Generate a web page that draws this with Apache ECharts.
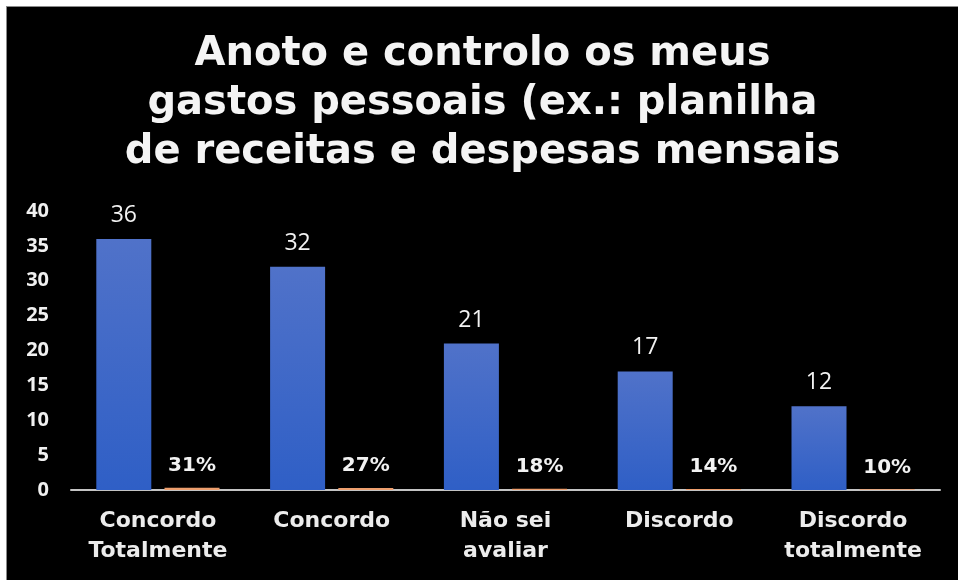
<!DOCTYPE html>
<html>
<head>
<meta charset="utf-8">
<script src="https://cdn.jsdelivr.net/npm/echarts@6/dist/echarts.min.js"></script>
<style>
  html, body { margin: 0; padding: 0; background: #ffffff; width: 958px; height: 580px; overflow: hidden; }
  #frame { position: absolute; left: 6px; top: 6px; width: 952px; height: 574px; background: #000; border-left: 1px solid #8a8a8a; border-top: 1px solid #8a8a8a; box-sizing: border-box; }
  #chart { width: 100%; height: 100%; }
</style>
</head>
<body>
<div id="frame"><div id="chart"></div></div>
<script>
// Survey answers: counts and share of respondents
const titleLines = [
  'Anoto e controlo os meus',
  'gastos pessoais (ex.: planilha',
  'de receitas e despesas mensais'
];
const categories = ['Concordo\nTotalmente', 'Concordo', 'Não sei\navaliar', 'Discordo', 'Discordo\ntotalmente'];
const counts = [36, 32, 21, 17, 12];
const shares = [0.31, 0.27, 0.18, 0.14, 0.10];
const yTicks = { min: 0, max: 40, interval: 5 };

const chart = echarts.init(document.getElementById('chart'));

chart.setOption({
  backgroundColor: '#000000',
  animation: false,
  graphic: [{
    type: 'text',
    left: 'center',
    top: 23,
    style: {
      text: titleLines.join('\n'),
      fill: '#f4f4f4',
      font: 'bold 40px "DejaVu Sans"',
      lineHeight: 49,
      textAlign: 'center'
    }
  }],
  grid: { left: 64, right: 18, top: 204, bottom: 90 },
  xAxis: {
    type: 'category',
    data: categories,
    axisTick: { show: false },
    axisLine: { lineStyle: { color: '#c4c4c4', width: 2 } },
    axisLabel: {
      color: '#ececec',
      fontFamily: 'DejaVu Sans',
      fontWeight: 'bold',
      fontSize: 22,
      lineHeight: 30,
      margin: 16,
      interval: 0
    }
  },
  yAxis: {
    type: 'value',
    min: yTicks.min,
    max: yTicks.max,
    interval: yTicks.interval,
    splitLine: { show: false },
    axisLine: { show: false },
    axisTick: { show: false },
    axisLabel: {
      color: '#f0f0f0',
      fontFamily: 'Open Sans',
      fontWeight: 'bold',
      fontSize: 20,
      margin: 22
    }
  },
  series: [
    {
      type: 'bar',
      data: counts,
      barWidth: 55,
      barGap: '24%',
      itemStyle: {
        color: new echarts.graphic.LinearGradient(0, 0, 0, 1, [
          { offset: 0, color: '#5072c9' },
          { offset: 1, color: '#2f5fc6' }
        ])
      },
      label: {
        show: true,
        position: 'top',
        distance: 12,
        color: '#f2f2f2',
        fontFamily: 'Open Sans',
        fontSize: 23
      }
    },
    {
      type: 'bar',
      data: shares,
      barWidth: 55,
      itemStyle: { color: '#ee9f6e' },
      label: {
        show: true,
        position: 'top',
        distance: 12,
        color: '#f2f2f2',
        fontFamily: 'DejaVu Sans',
        fontWeight: 'bold',
        fontSize: 20,
        formatter: p => Math.round(p.value * 100) + '%'
      }
    }
  ]
});
</script>
</body>
</html>
